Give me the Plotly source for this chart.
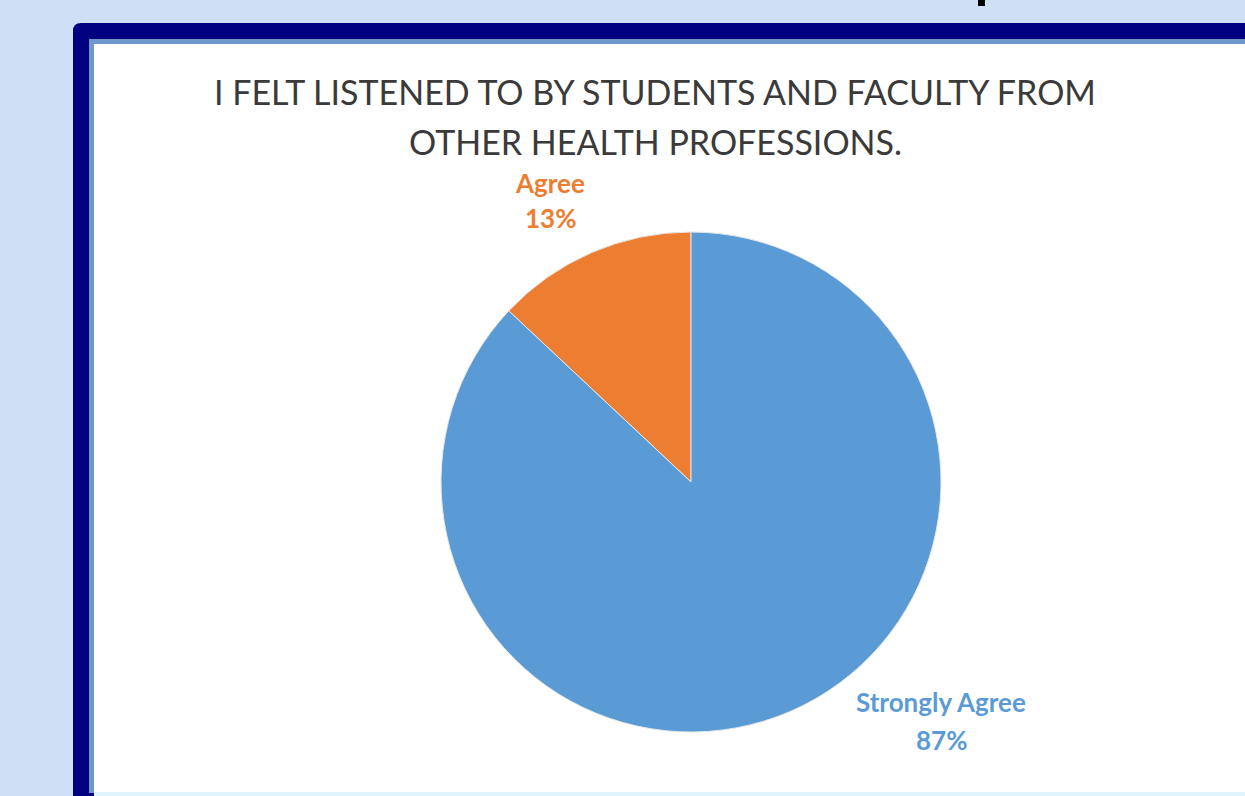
import plotly.graph_objects as go

# chart data
labels = ['Agree', 'Strongly Agree']
values = [13, 87]
colors = ['#ED7D31', '#5B9BD5']
title_lines = ['I FELT LISTENED TO BY STUDENTS AND FACULTY FROM',
               'OTHER HEALTH PROFESSIONS.']

W, H = 1245, 796


def px(x):
    return x / W


def py(y):
    # pixel from top -> paper y
    return 1 - y / H


# pie geometry in pixels
cx, cy, r = 691, 482, 250

fig = go.Figure()

# first slice (Agree) should end at 12 o'clock, sitting on the left side
start_rot = -360 * values[0] / sum(values)

fig.add_trace(go.Pie(
    labels=labels,
    values=values,
    sort=False,
    direction='clockwise',
    rotation=start_rot,
    marker=dict(colors=colors, line=dict(color='#e6e6e6', width=1)),
    textinfo='none',
    hoverinfo='label+percent',
    domain=dict(x=[px(cx - r), px(cx + r)], y=[py(cy + r), py(cy - r)]),
    showlegend=False
))

# slide frame: navy border, thin blue stripe, white panel
shapes = [
    dict(type='path',
         path=f"M {px(73)},{py(H + 5)} L {px(73)},{py(31)} "
              f"Q {px(73)},{py(23)} {px(81)},{py(23)} L {px(W + 5)},{py(23)} "
              f"L {px(W + 5)},{py(H + 5)} Z",
         xref='paper', yref='paper', fillcolor='#000080', line=dict(width=0), layer='below'),
    dict(type='rect', x0=px(89), x1=px(W + 5), y0=py(793), y1=py(39),
         xref='paper', yref='paper', fillcolor='#6f97cc', line=dict(width=0), layer='below'),
    dict(type='rect', x0=px(94), x1=px(W + 5), y0=py(792), y1=py(44),
         xref='paper', yref='paper', fillcolor='#ffffff', line=dict(width=0), layer='below'),
    dict(type='rect', x0=px(94), x1=px(W + 5), y0=py(H + 2), y1=py(792),
         xref='paper', yref='paper', fillcolor='#dff4fb', line=dict(width=0), layer='below'),
    # cut-off glyph fragment at the very top
    dict(type='rect', x0=px(978), x1=px(985), y0=py(6), y1=py(-2),
         xref='paper', yref='paper', fillcolor='#000000', line=dict(width=0), layer='below'),
]

title_font = dict(family='Lato', size=34, color='#3a3a3a')
annotations = [
    dict(text=title_lines[0], x=px(655), y=py(92), xref='paper', yref='paper',
         showarrow=False, xanchor='center', yanchor='middle', font=title_font),
    dict(text=title_lines[1], x=px(655), y=py(142), xref='paper', yref='paper',
         showarrow=False, xanchor='center', yanchor='middle', font=title_font),
]

# outside data labels (name + percent)
label_pos = [(550, 183, 218), (941, 702, 740)]
for name, val, col, (lx, ly1, ly2) in zip(labels, values, colors, label_pos):
    lab_font = dict(family='Lato', size=26, color=col)
    annotations.append(dict(text=f"<b>{name}</b>", x=px(lx), y=py(ly1), xref='paper', yref='paper',
                            showarrow=False, xanchor='center', yanchor='middle', font=lab_font))
    annotations.append(dict(text=f"<b>{val}%</b>", x=px(lx), y=py(ly2), xref='paper', yref='paper',
                            showarrow=False, xanchor='center', yanchor='middle', font=lab_font))

fig.update_layout(
    width=W,
    height=H,
    margin=dict(l=0, r=0, t=0, b=0),
    paper_bgcolor='#cfdff6',
    plot_bgcolor='#cfdff6',
    shapes=shapes,
    annotations=annotations,
)

fig.write_html("out.html", config={'displayModeBar': False},
               post_script="document.body.style.margin='0';")
